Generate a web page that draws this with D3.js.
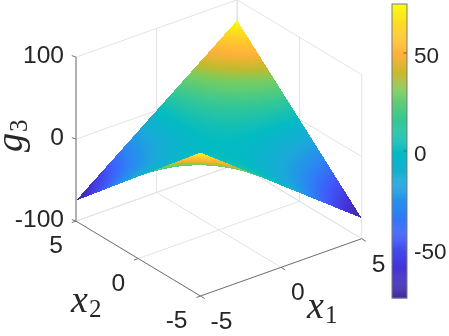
<!DOCTYPE html>
<html><head><meta charset="utf-8">
<style>html,body{margin:0;padding:0;background:#fff}svg{display:block;filter:blur(.45px)}</style>
<script src="https://cdn.jsdelivr.net/npm/d3@7"></script></head><body>
<svg id="c" width="449" height="336"></svg>
<script>
const x1Grid=[-5,-4,-3,-2,-1,0,1,2,3,4,5];
const x2Grid=[-5,-4,-3,-2,-1,0,1,2,3,4,5];
const gValues=[
[75,60,45,30,15,0,-15,-30,-45,-60,-75],
[60,48,36,24,12,0,-12,-24,-36,-48,-60],
[45,36,27,18,9,0,-9,-18,-27,-36,-45],
[30,24,18,12,6,0,-6,-12,-18,-24,-30],
[15,12,9,6,3,0,-3,-6,-9,-12,-15],
[0,0,0,0,0,0,0,0,0,0,0],
[-15,-12,-9,-6,-3,0,3,6,9,12,15],
[-30,-24,-18,-12,-6,0,6,12,18,24,30],
[-45,-36,-27,-18,-9,0,9,18,27,36,45],
[-60,-48,-36,-24,-12,0,12,24,36,48,60],
[-75,-60,-45,-30,-15,0,15,30,45,60,75]];
const x1Ticks=[-5,0,5], x2Ticks=[-5,0,5], gTicks=[-100,0,100], barTicks=[-50,0,50];
const cmapStops=[0,.1,.2,.3,.4,.5,.6,.7,.76,.83,.9,1];
const cmapColors=["#3d2a9c","#4632d6","#4157fa","#2b85f5","#1aa9d8","#03bbc3","#33c796","#76cd62","#c4b92c","#ffb13a","#ffcb2a","#f9fb14"];

const W=449,H=336,svg=d3.select("#c");
const x1X=d3.scaleLinear([-5,5],[0,161.2]), x1Y=d3.scaleLinear([-5,5],[0,-57.3]);
const x2X=d3.scaleLinear([-5,5],[0,-124.5]), x2Y=d3.scaleLinear([-5,5],[0,-74.9]);
const gY=d3.scaleLinear([-100,100],[0,-164]);
const O={x:200.5,y:296};
const P=(a,b,g)=>[O.x+x1X(a)+x2X(b),O.y+x1Y(a)+x2Y(b)+gY(g)];
const color=d3.scaleLinear().domain(cmapStops.map(t=>-75+150*t)).range(cmapColors).interpolate(d3.interpolateRgb).clamp(true);
const line=d3.line();

function seg(p,q,col,w,g){g.append("line").attr("x1",p[0]).attr("y1",p[1]).attr("x2",q[0]).attr("y2",q[1]).attr("stroke",col).attr("stroke-width",w);}

// back walls and floor grid
const grid=svg.append("g"), GC="#e3e3e3";
x1Ticks.forEach(a=>{seg(P(a,-5,-100),P(a,5,-100),GC,1,grid);seg(P(a,5,-100),P(a,5,100),GC,1,grid);});
x2Ticks.forEach(b=>{seg(P(-5,b,-100),P(5,b,-100),GC,1,grid);seg(P(5,b,-100),P(5,b,100),GC,1,grid);});
gTicks.forEach(g=>{seg(P(-5,5,g),P(5,5,g),GC,1,grid);seg(P(5,5,g),P(5,-5,g),GC,1,grid);});

// surface: bilinear within each data cell, drawn back to front
const sub=10, cells=[];
const n=x1Grid.length;
for(let j=0;j<n-1;j++)for(let i=0;i<n-1;i++){
  const a0=x1Grid[i],a1=x1Grid[i+1],b0=x2Grid[j],b1=x2Grid[j+1];
  const z00=gValues[j][i],z10=gValues[j][i+1],z01=gValues[j+1][i],z11=gValues[j+1][i+1];
  const f=(u,v)=>{const z=(1-u)*(1-v)*z00+u*(1-v)*z10+(1-u)*v*z01+u*v*z11;return [a0+(a1-a0)*u,b0+(b1-b0)*v,z];};
  for(let q=0;q<sub;q++)for(let p=0;p<sub;p++){
    const u0=p/sub,u1=(p+1)/sub,v0=q/sub,v1=(q+1)/sub;
    const c=f((u0+u1)/2,(v0+v1)/2);
    cells.push({pts:[f(u0,v0),f(u1,v0),f(u1,v1),f(u0,v1)],z:c[2],d:1.24*c[0]/10+1.617*c[1]/10-1.17*c[2]/200});
  }
}
cells.sort((s,t)=>t.d-s.d);
svg.append("g").attr("shape-rendering","crispEdges").selectAll("path").data(cells).join("path")
 .attr("d",c=>line(c.pts.map(p=>P(p[0],p[1],p[2])))+"Z")
 .attr("fill",c=>color(c.z));

// axes
const AC="#737373", ax=svg.append("g");
seg(P(-5,5,-100),P(-5,5,100),AC,1,ax);
seg(P(-5,5,-100),P(-5,-5,-100),AC,1,ax);
seg(P(-5,-5,-100),P(5,-5,-100),AC,1,ax);
const tx=(x,y,s,a,fs)=>svg.append("text").attr("x",x).attr("y",y).attr("text-anchor",a).attr("font-family","'Liberation Sans',Arial,sans-serif").attr("font-size",fs).attr("fill","#262626").text(s);
gTicks.forEach(g=>{const p=P(-5,5,g);seg(p,[p[0]-4.2,p[1]-1.5],AC,1,ax);tx(p[0]-12,p[1]+6,g,"end",24.6);});
x2Ticks.forEach(b=>{const p=P(-5,b,-100);seg(p,[p[0]-4.2,p[1]+1.5],AC,1,ax);tx(p[0]-13,p[1]+32,b,"end",24.6);});
x1Ticks.forEach(a=>{const p=P(a,-5,-100);seg(p,[p[0]+4.2,p[1]+2.6],AC,1,ax);tx(p[0]+10,p[1]+33,a,"start",24.6);});

// math labels
function mathLabel(base,subs,x,y,rot){
  const t=svg.append("text").attr("transform",`translate(${x},${y}) rotate(${rot})`).attr("font-family","'Liberation Serif',serif").attr("fill","#262626");
  t.append("tspan").attr("font-size",38).attr("font-style","italic").text(base);
  t.append("tspan").attr("font-size",25).attr("dy",5).attr("dx",1).text(subs);
}
mathLabel("g","3",22,152,-90);
mathLabel("x","2",71,312,0);
mathLabel("x","1",307,318,0);

// colorbar
const barY=d3.scaleLinear([-75,75],[298,4]), bx0=392,bx1=407;
const cb=svg.append("g");
cb.selectAll("rect").data(d3.range(-75,75,.5)).join("rect")
 .attr("x",bx0).attr("width",bx1-bx0).attr("y",d=>barY(d+.5)).attr("height",d=>barY(d)-barY(d+.5)+.4)
 .attr("fill",d=>color(d+.25));
cb.append("rect").attr("x",bx0).attr("y",4).attr("width",bx1-bx0).attr("height",294).attr("fill","none").attr("stroke","#7a7a7a").attr("stroke-width",1);
barTicks.forEach(v=>{const y=barY(v);seg([bx1-3.5,y],[bx1,y],"#666",1,cb);tx(414,y+10,v,"start",22.5);});
</script></body></html>
